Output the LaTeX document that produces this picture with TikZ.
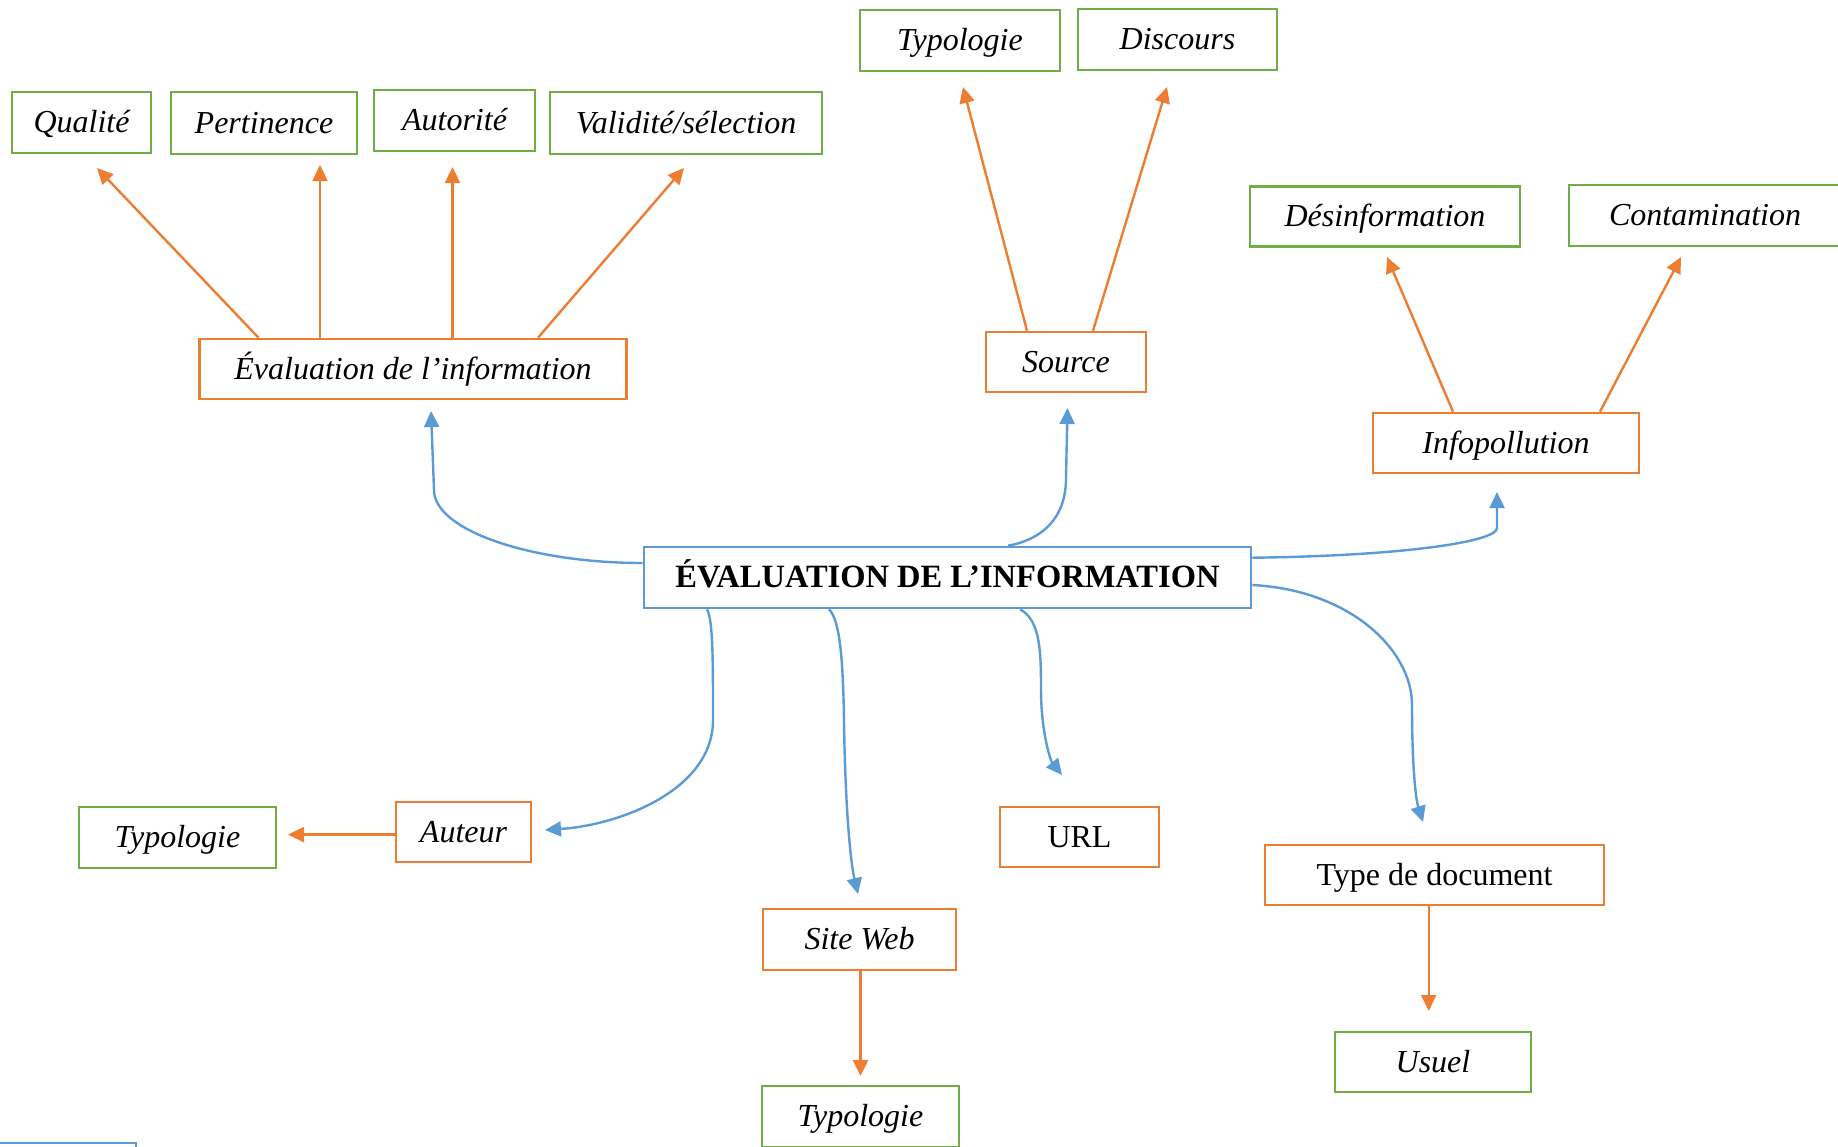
\documentclass[tikz,border=0pt]{standalone}
\usepackage{fontspec}
\setmainfont{Liberation Serif}
\usetikzlibrary{arrows.meta}
\definecolor{oorange}{HTML}{ED7D31}
\definecolor{ogreen}{HTML}{70AD47}
\definecolor{oblue}{HTML}{5B9BD5}
\tikzset{
  box/.style={draw, line width=2.6pt, fill=white, inner sep=0pt, rectangle,
    text height=25pt, text depth=5pt,
    font=\fontsize{32}{36}\selectfont\itshape},
  gbox/.style={box, draw=ogreen},
  obox/.style={box, draw=oorange},
  bbox/.style={box, draw=oblue},
  oarr/.style={draw=oorange, line width=2.4pt, -{Triangle[length=16pt,width=15pt]}, fill=none},
  barr/.style={draw=oblue, line width=2.4pt, -{Triangle[length=16pt,width=15pt]}, fill=none},
}
\begin{document}
\begin{tikzpicture}[x=1pt,y=-1pt]
\useasboundingbox (0,0) rectangle (1838,1146);
\begin{scope}
\clip (0,0) rectangle (1838,1146);
% green leaves
\node[gbox, minimum width=139pt, minimum height=61pt] (qual) at (81.5,122.5) {Qualité};
\node[gbox, minimum width=186pt, minimum height=62pt] (pert) at (264,123) {Pertinence};
\node[gbox, minimum width=161pt, minimum height=61pt] (auto) at (454.5,120.5) {Autorité};
\node[gbox, minimum width=272pt, minimum height=62pt] (vali) at (686,123) {Validité/sélection};
\node[gbox, minimum width=200pt, minimum height=61pt] (typoA) at (960,40.5) {Typologie};
\node[gbox, minimum width=199pt, minimum height=61pt] (disc) at (1177.5,39.5) {Discours};
\node[gbox, minimum width=270pt, minimum height=60pt] (desinf) at (1385,216.5) {Désinformation};
\node[gbox, minimum width=272pt, minimum height=61pt] (contam) at (1705,215.5) {Contamination};
\node[gbox, minimum width=197pt, minimum height=61pt] (typoL) at (177.5,837.5) {Typologie};
\node[gbox, minimum width=197pt, minimum height=61pt] (typoB) at (860.5,1116.5) {Typologie};
\node[gbox, minimum width=196pt, minimum height=60pt] (usuel) at (1433,1062) {Usuel};
% orange sub-nodes
\node[obox, minimum width=427pt, minimum height=60pt] (evalsub) at (413,369) {Évaluation de l’information};
\node[obox, minimum width=160pt, minimum height=60pt] (source) at (1066,362) {Source};
\node[obox, minimum width=266pt, minimum height=60pt] (infop) at (1506,443) {Infopollution};
\node[obox, minimum width=135pt, minimum height=60pt] (auteur) at (463.5,832) {Auteur};
\node[obox, minimum width=193pt, minimum height=61pt] (siteweb) at (859.5,939.5) {Site Web};
\node[obox, minimum width=159pt, minimum height=60pt, font=\fontsize{32}{36}\selectfont\upshape] (url) at (1079.5,837) {URL};
\node[obox, minimum width=339pt, minimum height=60pt, font=\fontsize{32}{36}\selectfont\upshape] (typedoc) at (1434.5,875) {Type de document};
% main node
\node[bbox, minimum width=607pt, minimum height=61pt, font=\fontsize{32.5}{36}\selectfont\bfseries] (main) at (947.5,577.5) {ÉVALUATION DE L’INFORMATION};
% partially visible box at bottom left
\node[bbox, minimum width=200pt, minimum height=60pt] (extra) at (36,1173) {};
% arrow tip coordinates
\coordinate (tQual) at (97,168);
\coordinate (tPert) at (320,165);
\coordinate (tAuto) at (452.5,167);
\coordinate (tVali) at (684,168);
\coordinate (tTypoA) at (963,87);
\coordinate (tDisc) at (1167,87);
\coordinate (tDesinf) at (1387,257);
\coordinate (tContam) at (1681,257);
\coordinate (tTypoL) at (288,834.6);
\coordinate (tTypoB) at (860.5,1076);
\coordinate (tUsuel) at (1428.7,1011);
\coordinate (tEval) at (431,411);
\coordinate (tSource) at (1067.5,408);
\coordinate (tInfop) at (1497,492);
\coordinate (tTypedoc) at (1423,822);
\coordinate (tUrl) at (1062,775);
\coordinate (tSite) at (858,894);
\coordinate (tAuteur) at (545,830);
% orange arrows
\draw[oarr] ([xshift=-154.5pt]evalsub.north) -- (tQual);
\draw[oarr] ([xshift=-93pt]evalsub.north) -- (tPert);
\draw[oarr] ([xshift=39.5pt]evalsub.north) -- (tAuto);
\draw[oarr] ([xshift=125pt]evalsub.north) -- (tVali);
\draw[oarr] ([xshift=-39pt]source.north) -- (tTypoA);
\draw[oarr] ([xshift=27pt]source.north) -- (tDisc);
\draw[oarr] ([xshift=-53pt]infop.north) -- (tDesinf);
\draw[oarr] ([xshift=94pt]infop.north) -- (tContam);
\draw[oarr] ([yshift=-2.6pt]auteur.west) -- (tTypoL);
\draw[oarr] ([xshift=1pt]siteweb.south) -- (tTypoB);
\draw[oarr] ([xshift=-5.8pt]typedoc.south) -- (tUsuel);
% blue curves
\draw[barr] ([yshift=14.5pt]main.west) .. controls (530,563) and (434,530) .. (434,490) -- (tEval);
\draw[barr] ([xshift=60.5pt]main.north) .. controls (1040,540) and (1066,520) .. (1066,478) -- (tSource);
\draw[barr] ([yshift=19.8pt]main.east) .. controls (1400,556) and (1497,542) .. (1497,528) -- (tInfop);
\draw[barr] ([yshift=-7.5pt]main.east) .. controls (1350,590) and (1412,650) .. (1412,705) .. controls (1412,770) and (1416,800) .. (tTypedoc);
\draw[barr] ([xshift=72.5pt]main.south) .. controls (1040,620) and (1041,650) .. (1041,690) .. controls (1041,730) and (1050,760) .. (tUrl);
\draw[barr] ([xshift=-118.5pt]main.south) .. controls (840,620) and (843,660) .. (844,720) .. controls (845,800) and (850,860) .. (tSite);
\draw[barr] ([xshift=-240.5pt]main.south) .. controls (713,620) and (713,660) .. (713,720) .. controls (713,790) and (620,825) .. (tAuteur);
\end{scope}
\end{tikzpicture}
\end{document}
